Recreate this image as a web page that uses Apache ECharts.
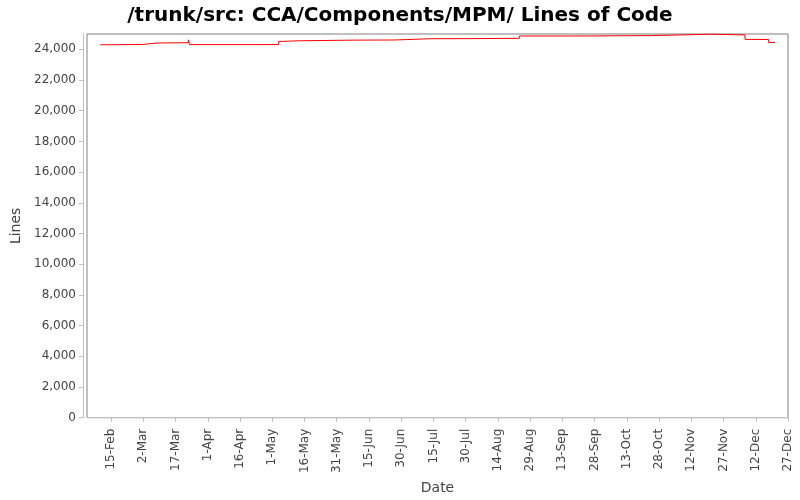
<!DOCTYPE html>
<html>
<head>
<meta charset="utf-8">
<script src="https://cdn.jsdelivr.net/npm/echarts@6/dist/echarts.min.js"></script>
<style>
  html, body { margin: 0; padding: 0; background: #fff; }
  #main { width: 800px; height: 500px; }
</style>
</head>
<body>
<div id="main"></div>
<script>
// dates where the line count changes, and the count from that date on
var changeDates = [
  '2007-02-10', '2007-02-16', '2007-03-02', '2007-03-08', '2007-03-12',
  '2007-03-23T00:00', '2007-03-23T12:00', '2007-04-30', '2007-05-04', '2007-05-06',
  '2007-05-10', '2007-05-14', '2007-06-08', '2007-06-27', '2007-07-03',
  '2007-07-13', '2007-08-04', '2007-08-24', '2007-09-19', '2007-10-24',
  '2007-11-21', '2007-12-07', '2007-12-10', '2007-12-18', '2007-12-21'
];
var lineCounts = [
  24300, 24320, 24410, 24420, 24430,
  24620, 24310, 24320, 24520, 24540,
  24560, 24600, 24610, 24640, 24690,
  24700, 24720, 24870, 24895, 24985,
  24940, 24650, 24640, 24450, 24450
];
var tickDates = [
  '2007-02-15', '2007-03-02', '2007-03-17', '2007-04-01', '2007-04-16', '2007-05-01',
  '2007-05-16', '2007-05-31', '2007-06-15', '2007-06-30', '2007-07-15', '2007-07-30',
  '2007-08-14', '2007-08-29', '2007-09-13', '2007-09-28', '2007-10-13', '2007-10-28',
  '2007-11-12', '2007-11-27', '2007-12-12', '2007-12-27'
];
var monthNames = ['Jan','Feb','Mar','Apr','May','Jun','Jul','Aug','Sep','Oct','Nov','Dec'];

function ts(s) {
  return new Date(s.length > 10 ? s + ':00Z' : s + 'T00:00:00Z').getTime();
}

var seriesData = changeDates.map(function (d, i) { return [ts(d), lineCounts[i]]; });
var tickValues = tickDates.map(ts);
var DAY = 86400000;

var chart = echarts.init(document.getElementById('main'));
chart.setOption({
  backgroundColor: '#ffffff',
  animation: false,
  title: {
    text: '/trunk/src: CCA/Components/MPM/ Lines of Code',
    left: 'center',
    top: 1,
    textStyle: { fontFamily: 'DejaVu Sans', fontSize: 20, fontWeight: 'bold', color: '#000' }
  },
  grid: {
    left: 87, right: 12, top: 34, bottom: 79,
    show: true, borderColor: '#808080', borderWidth: 1, backgroundColor: '#ffffff'
  },
  xAxis: {
    type: 'value',
    min: ts('2007-02-15') - 11.2 * DAY,
    max: ts('2007-12-27'),
    offset: 3,
    name: 'Date',
    nameLocation: 'middle',
    nameGap: 54,
    nameTextStyle: { fontFamily: 'DejaVu Sans', fontSize: 14, color: '#444' },
    axisLine: { show: true, lineStyle: { color: '#c0c0c0' } },
    axisTick: { show: true, length: 4, customValues: tickValues, lineStyle: { color: '#c0c0c0' } },
    splitLine: { show: false },
    axisLabel: {
      customValues: tickValues,
      rotate: 90,
      margin: 8,
      fontFamily: 'DejaVu Sans',
      fontSize: 12,
      color: '#444',
      formatter: function (v) {
        var d = new Date(v);
        return d.getUTCDate() + '-' + monthNames[d.getUTCMonth()];
      }
    }
  },
  yAxis: {
    type: 'value',
    min: 0,
    max: 25000,
    interval: 2000,
    offset: 4,
    name: 'Lines',
    nameLocation: 'middle',
    nameGap: 52,
    nameTextStyle: { fontFamily: 'DejaVu Sans', fontSize: 14, color: '#444' },
    axisLine: { show: true, lineStyle: { color: '#c0c0c0' } },
    axisTick: { show: true, length: 4, lineStyle: { color: '#c0c0c0' } },
    splitLine: { show: false },
    axisLabel: {
      margin: 7,
      fontFamily: 'DejaVu Sans',
      fontSize: 12,
      color: '#444',
      showMaxLabel: false,
      formatter: function (v) { return v.toLocaleString('en-US'); }
    }
  },
  series: [{
    type: 'line',
    step: 'end',
    data: seriesData,
    showSymbol: false,
    clip: false,
    lineStyle: { color: '#ff0000', width: 1 }
  }]
});
</script>
</body>
</html>
